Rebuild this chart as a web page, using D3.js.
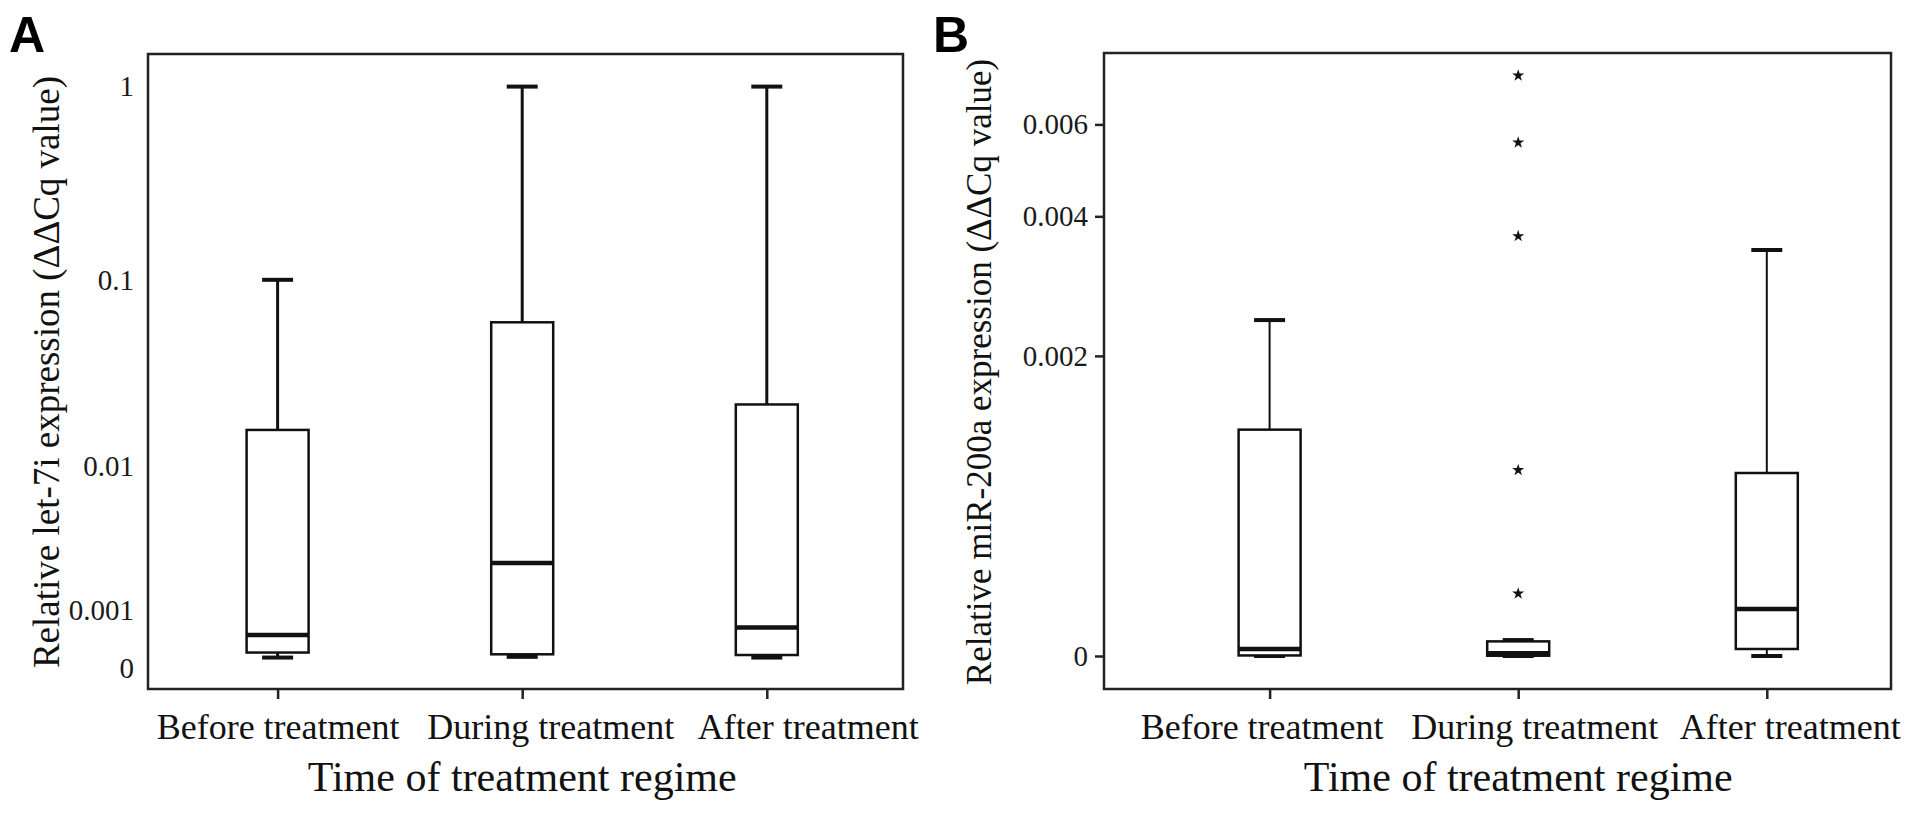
<!DOCTYPE html>
<html>
<head>
<meta charset="utf-8">
<script src="https://cdn.jsdelivr.net/npm/d3@7"></script>
<style>
  body { margin: 0; background: #fff; }
</style>
</head>
<body>
<script>
let width = 1913;
let height = 814;

const categories = ["Before treatment", "During treatment", "After treatment"];

// let-7i (panel A)
const let7iMin = [0.00014, 0.00015, 0.00014];
const let7iQ1 = [0.00021, 0.000185, 0.000175];
const let7iMedian = [0.00049, 0.0025, 0.00063];
const let7iQ3 = [0.016, 0.06, 0.022];
const let7iMax = [0.1, 1, 1];
const let7iTicks = [0, 0.001, 0.01, 0.1, 1];

// miR-200a (panel B)
const mirMin = [0, 0, 0];
const mirQ1 = [0.000002, 0.000001, 0.000026];
const mirMedian = [0.000026, 0.00001, 0.000188];
const mirQ3 = [0.00129, 0.000055, 0.000954];
const mirMax = [0.00242, 0.00006, 0.00342];
const mirOutliers = [[], [0.00737, 0.00555, 0.00365, 0.000975, 0.000257], []];
const mirTicks = [0, 0.002, 0.004, 0.006];

let serif = "Liberation Serif, Times New Roman, serif";

let svg = d3.select("body")
  .append("svg")
  .attr("width", width)
  .attr("height", height)
  .style("background-color", "#ffffff");

drawPanel(svg, {
  letter: "A",
  letterX: 9,
  frame: { left: 148, right: 903, top: 54, bottom: 689 },
  xRange: [277.6, 766.8],
  labelShift: [0, 28, 41],
  y: d3.scaleSymlog().constant(0.001).domain([0, 1]).range([668.6, 86.6]),
  ticks: let7iTicks,
  tickSize: 0,
  tickPadding: 14,
  stats: { min: let7iMin, q1: let7iQ1, med: let7iMedian, q3: let7iQ3, max: let7iMax },
  outliers: [[], [], []],
  whiskerWidth: 3,
  ylabel: "Relative let-7i expression (ΔΔCq value)",
  ylabelX: 46,
  ylabelSize: 37
});

drawPanel(svg, {
  letter: "B",
  letterX: 933,
  frame: { left: 1104, right: 1891, top: 53, bottom: 689 },
  xRange: [1269.6, 1766.8],
  labelShift: [-8, 16, 23],
  y: d3.scaleSymlog().constant(0.001).domain([0, 0.006]).range([656, 124.4]),
  ticks: mirTicks,
  tickSize: 9,
  tickPadding: 7,
  stats: { min: mirMin, q1: mirQ1, med: mirMedian, q3: mirQ3, max: mirMax },
  outliers: mirOutliers,
  whiskerWidth: 2,
  ylabel: "Relative miR-200a expression (ΔΔCq value)",
  ylabelX: 979,
  ylabelSize: 35
});

function drawPanel(svg, p) {
  let g = svg.append("g");
  let f = p.frame;
  let x = d3.scalePoint().domain(categories).range(p.xRange);
  let y = p.y;
  let boxW = 62;
  let capW = 31;

  // frame
  g.append("rect")
    .attr("x", f.left)
    .attr("y", f.top)
    .attr("width", f.right - f.left)
    .attr("height", f.bottom - f.top)
    .attr("fill", "none")
    .attr("stroke", "#222")
    .attr("stroke-width", 2.5);

  // y axis
  let yAxis = g.append("g")
    .attr("transform", `translate(${f.left}, 0)`)
    .call(d3.axisLeft(y).tickValues(p.ticks).tickFormat(d => String(d))
      .tickSize(p.tickSize).tickPadding(p.tickPadding));
  yAxis.select(".domain").remove();
  yAxis.selectAll("line").attr("stroke", "#222").attr("stroke-width", 2.5);
  yAxis.selectAll("text")
    .attr("font-family", serif)
    .attr("font-size", 29)
    .attr("fill", "#1a1a1a");

  // x axis; labels are spread a little wider than the boxes, as in the source figure
  let xAxis = g.append("g")
    .attr("transform", `translate(0, ${f.bottom})`)
    .call(d3.axisBottom(x).tickSize(10).tickPadding(14));
  xAxis.select(".domain").remove();
  xAxis.selectAll("line").attr("stroke", "#222").attr("stroke-width", 2.5);
  xAxis.selectAll("text")
    .attr("dx", (d, i) => p.labelShift[i])
    .attr("font-family", serif)
    .attr("font-size", 36)
    .attr("fill", "#111");

  let s = p.stats;
  let boxes = g.append("g").selectAll("g")
    .data(categories)
    .enter()
    .append("g");

  // whiskers
  boxes.append("line")
    .attr("x1", d => x(d)).attr("x2", d => x(d))
    .attr("y1", (d, i) => y(s.max[i])).attr("y2", (d, i) => y(s.q3[i]))
    .attr("stroke", "#111").attr("stroke-width", p.whiskerWidth);
  boxes.append("line")
    .attr("x1", d => x(d)).attr("x2", d => x(d))
    .attr("y1", (d, i) => y(s.q1[i])).attr("y2", (d, i) => y(s.min[i]))
    .attr("stroke", "#111").attr("stroke-width", p.whiskerWidth);
  boxes.append("line")
    .attr("x1", d => x(d) - capW / 2).attr("x2", d => x(d) + capW / 2)
    .attr("y1", (d, i) => y(s.max[i])).attr("y2", (d, i) => y(s.max[i]))
    .attr("stroke", "#111").attr("stroke-width", 4);
  boxes.append("line")
    .attr("x1", d => x(d) - capW / 2).attr("x2", d => x(d) + capW / 2)
    .attr("y1", (d, i) => y(s.min[i])).attr("y2", (d, i) => y(s.min[i]))
    .attr("stroke", "#111").attr("stroke-width", 4);

  // box
  boxes.append("rect")
    .attr("x", d => x(d) - boxW / 2)
    .attr("width", boxW)
    .attr("y", (d, i) => y(s.q3[i]))
    .attr("height", (d, i) => y(s.q1[i]) - y(s.q3[i]))
    .attr("fill", "#fff")
    .attr("stroke", "#111")
    .attr("stroke-width", 2.5);

  // median
  boxes.append("line")
    .attr("x1", d => x(d) - boxW / 2).attr("x2", d => x(d) + boxW / 2)
    .attr("y1", (d, i) => y(s.med[i])).attr("y2", (d, i) => y(s.med[i]))
    .attr("stroke", "#111").attr("stroke-width", 4.5);

  // extreme outliers
  boxes.selectAll("path.star")
    .data((d, i) => p.outliers[i].map(v => [d, v]))
    .enter()
    .append("path")
    .attr("class", "star")
    .attr("d", d3.symbol().type(d3.symbolStar).size(45))
    .attr("transform", d => `translate(${x(d[0])}, ${y(d[1])})`)
    .attr("fill", "#111");

  // titles
  g.append("text")
    .attr("x", (p.xRange[0] + p.xRange[1]) / 2)
    .attr("y", 791)
    .attr("text-anchor", "middle")
    .attr("font-family", serif)
    .attr("font-size", 42)
    .attr("fill", "#111")
    .text("Time of treatment regime");

  g.append("text")
    .attr("transform", `translate(${p.ylabelX}, 372) rotate(-90)`)
    .attr("text-anchor", "middle")
    .attr("dominant-baseline", "central")
    .attr("font-family", serif)
    .attr("font-size", p.ylabelSize)
    .attr("fill", "#111")
    .text(p.ylabel);

  g.append("text")
    .attr("x", p.letterX)
    .attr("y", 52)
    .attr("font-family", "Liberation Sans, Arial, sans-serif")
    .attr("font-weight", "bold")
    .attr("font-size", 50)
    .attr("fill", "#000")
    .text(p.letter);
}
</script>
</body>
</html>
